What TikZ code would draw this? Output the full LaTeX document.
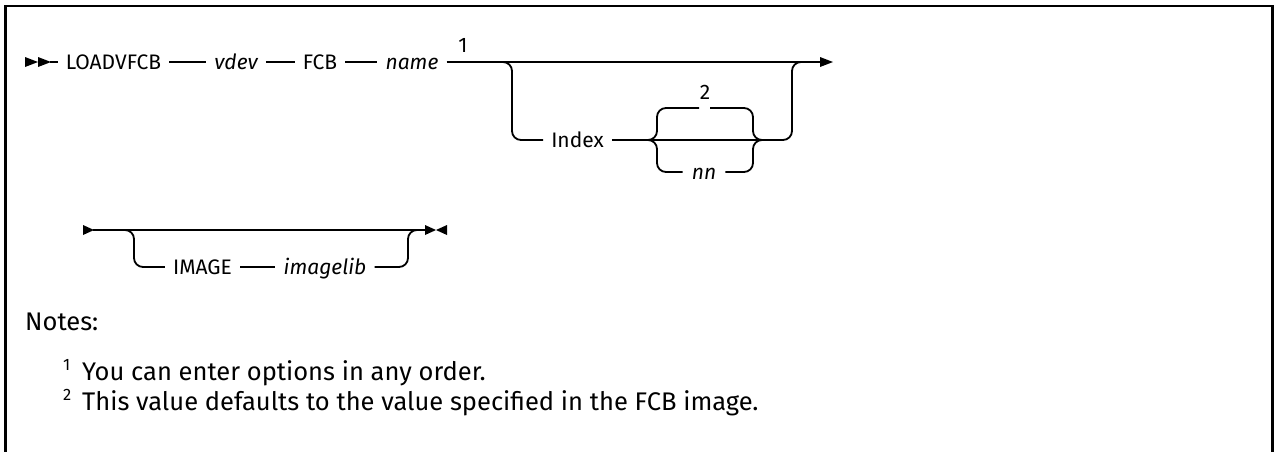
\documentclass[tikz,border=0pt]{standalone}
\usepackage{fontspec}
\setmainfont{Fira Sans}
\newcommand\dfont{\fontsize{21}{25}\selectfont}
\newcommand\nfont{\fontsize{25.5}{30}\selectfont}
\newcommand\sfont{\fontsize{16.5}{19}\selectfont}
\tikzset{
  txt/.style={font=\dfont, inner xsep=8pt, inner ysep=0pt, text height=14.5pt, text depth=0pt},
  var/.style={txt, font=\dfont\itshape},
  supl/.style={font=\dfont, inner sep=0pt},
  rail/.style={line width=1.8pt, rounded corners=9pt},
  tip/.style={fill=black},
  note/.style={font=\nfont, inner sep=0pt, anchor=base west},
  notesup/.style={font=\sfont, inner sep=0pt, anchor=base west},
  frame/.style={line width=2.4pt}
}
\begin{document}
\begin{tikzpicture}[x=1pt,y=-1pt]
\useasboundingbox (0,0) rectangle (1274,451);
% frame
\draw[frame] (5.3,452) -- (5.3,6) -- (1272.6,6) -- (1272.6,452);

% ---- row 1 ----
\fill[tip] (25,57) -- (38,62) -- (25,67) -- cycle;
\fill[tip] (38,57) -- (51,62) -- (38,67) -- cycle;
\coordinate (s1) at (50,62);
\node[txt] (load) at (113.5,62) {LOADVFCB};
\node[var] (vdev) at (236,62) {vdev};
\node[txt] (fcb) at (320,62) {FCB};
\node[var] (name) at (412,62) {name};
\node[supl] (n1) at (463,45) {1};
\coordinate (e1) at (821,62);
\fill[tip] (820,57) -- (833,62) -- (820,67) -- cycle;
\draw[rail] (s1) -- (load);
\draw[rail] (load) -- (vdev);
\draw[rail] (vdev) -- (fcb);
\draw[rail] (fcb) -- (name);
\draw[rail] (name) -- (e1);

% optional Index branch
\coordinate (b1) at (495,62);
\coordinate (d1) at (512,62);
\coordinate (d2) at (512,140);
\node[txt] (index) at (577.5,140) {Index};
\draw[rail] (b1) -- (d1) -- (d2) -- (index);

\coordinate (lb) at (640,140);
\coordinate (lbc) at (657,140);
\coordinate (lbt) at (657,108);
\coordinate (lbb) at (657,172);
\coordinate (g1) at (699,108);
\coordinate (g2) at (710,108);
\node[supl] (two) at (705,92) {2};
\node[var, inner xsep=9pt] (nn) at (704,172) {nn};
\coordinate (rbt) at (753,108);
\coordinate (rbb) at (753,172);
\coordinate (rbc) at (753,140);
\coordinate (rb) at (772,140);
\coordinate (r1) at (792,140);
\coordinate (r2) at (792,62);
\coordinate (r3) at (808,62);

\draw[rail] (index) -- (rb);
\draw[rail] (lb) -- (lbc) -- (lbt) -- (g1);
\draw[rail] (lb) -- (lbc) -- (lbb) -- (nn);
\draw[rail] (g2) -- (rbt) -- (rbc) -- (rb);
\draw[rail] (nn) -- (rbb) -- (rbc) -- (rb);
\draw[rail] (rb) -- (r1) -- (r2) -- (r3);

% ---- row 2 ----
\fill[tip] (83,225) -- (94,230) -- (83,235) -- cycle;
\coordinate (s2) at (93,230);
\coordinate (e2) at (426,230);
\draw[rail] (s2) -- (e2);
\fill[tip] (425,225) -- (436,230) -- (425,235) -- cycle;
\fill[tip] (447,225) -- (436,230) -- (447,235) -- cycle;

\coordinate (b2) at (118,230);
\coordinate (d3) at (134,230);
\coordinate (d4) at (134,267);
\node[txt] (image) at (202.5,267) {IMAGE};
\node[var] (imlib) at (325,267) {imagelib};
\coordinate (r4) at (408,267);
\coordinate (r5) at (408,230);
\coordinate (r6) at (422,230);
\draw[rail] (b2) -- (d3) -- (d4) -- (image);
\draw[rail] (image) -- (imlib);
\draw[rail] (imlib) -- (r4) -- (r5) -- (r6);

% ---- notes ----
\node[note] (notes) at (25,330) {Notes:};
\node[notesup] (f1) at (63,370) {1};
\node[note] (t1) at (82,380) {You can enter options in any order.};
\node[notesup] (f2) at (63,400) {2};
\node[note] (t2) at (82,410) {This value defaults to the value specified in the FCB image.};
\end{tikzpicture}
\end{document}
